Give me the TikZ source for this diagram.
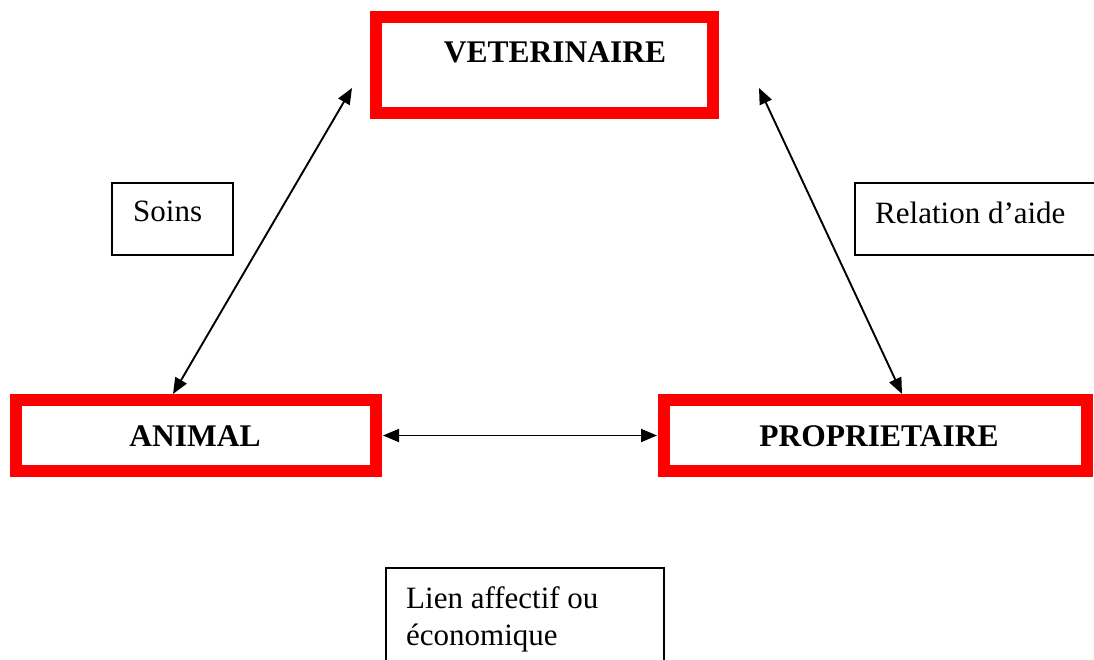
\documentclass[tikz,border=0pt]{standalone}
\usepackage{fontspec}
\setmainfont{Liberation Serif}
\usetikzlibrary{arrows.meta}
\begin{document}
\begin{tikzpicture}[x=1pt,y=-1pt,
  redbox/.style={draw=red,line width=12pt,inner sep=0pt,rectangle},
  lblbox/.style={draw=black,line width=1.6pt,inner sep=0pt,rectangle},
  title/.style={font=\fontsize{31.5}{37}\selectfont\bfseries,inner sep=0pt,anchor=base},
  lbl/.style={font=\fontsize{31}{37}\selectfont,inner sep=0pt,anchor=base west},
  arr/.style={line width=1.9pt,{Triangle[length=16pt,width=13pt]}-{Triangle[length=16pt,width=13pt]}}]
\useasboundingbox (0,0) rectangle (1094,660);
\clip (0,0) rectangle (1094,660);
% main boxes
\node[redbox,minimum width=337pt,minimum height=96pt] (vet) at (544.5,65) {};
\node[title] (vett) at (555,63) {VETERINAIRE};
\node[redbox,minimum width=360pt,minimum height=71pt] (animal) at (196,435.5) {};
\node[title] (animalt) at (195,446) {ANIMAL};
\node[redbox,minimum width=423pt,minimum height=71pt] (prop) at (875.5,435.5) {};
\node[title] (propt) at (879,446) {PROPRIETAIRE};
% label boxes
\node[lblbox,minimum width=121pt,minimum height=72pt] (soinsbox) at (172.5,219) {};
\node[lbl] (soins) at (133,222) {Soins};
\node[lblbox,minimum width=265pt,minimum height=72pt] (relbox) at (987.5,219) {};
\node[lbl] (rel) at (875,224) {Relation d’aide};
\node[lblbox,minimum width=278pt,minimum height=132pt] (lienbox) at (525,634) {};
\node[lbl] (lien1) at (406,608) {Lien affectif ou};
\node[lbl] (lien2) at (406,645) {économique};
% connectors
\draw[arr] ([xshift=-18pt,yshift=-23pt]vet.west) -- ([xshift=163pt]animal.north west);
\draw[arr] ([xshift=40pt,yshift=-23pt]vet.east) -- ([xshift=244pt]prop.north west);
\draw[arr] ([xshift=1pt]animal.east) -- ([xshift=-1pt]prop.west);
\end{tikzpicture}
\end{document}
